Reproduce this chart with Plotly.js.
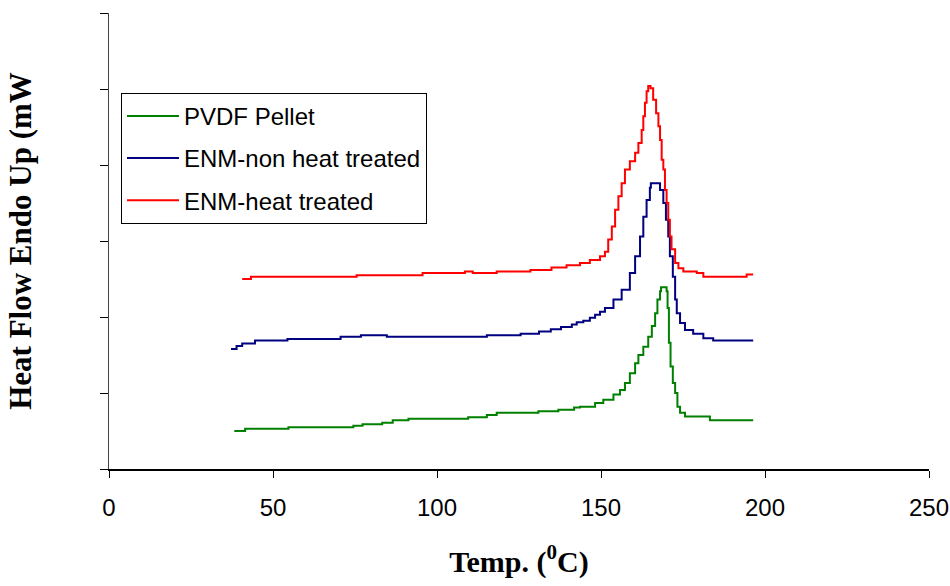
<!DOCTYPE html>
<html>
<head>
<meta charset="utf-8">
<script src="https://cdn.plot.ly/plotly-3.0.1.min.js"></script>
<style>html,body{margin:0;padding:0;background:#fff;}#chart{width:950px;height:586px;}</style>
</head>
<body>
<div id="chart"></div>
<script>
// Series names
const seriesNames = ["PVDF Pellet", "ENM-non heat treated", "ENM-heat treated"];

// PVDF Pellet
const pvdfT = [38.2, 41.5, 54.7, 74.5, 77.3, 83.3, 86.5, 91.3, 109.5, 115.2, 118.2, 130.9, 137.0, 141.8, 143.6, 148.2, 150.7, 153.8, 155.8, 157.3, 158.8, 160.4, 161.4, 162.9, 164.4, 165.5, 166.5, 167.2, 168.0, 168.3, 169.5, 170.0, 170.3, 170.7, 171.2, 171.9, 172.6, 173.3, 174.1, 175.6, 180.2, 183.2, 196.4];
const pvdfY = [0.50, 0.53, 0.55, 0.57, 0.59, 0.61, 0.64, 0.66, 0.68, 0.71, 0.74, 0.76, 0.78, 0.81, 0.82, 0.87, 0.91, 0.98, 1.04, 1.13, 1.26, 1.39, 1.50, 1.61, 1.74, 1.88, 2.05, 2.23, 2.34, 2.39, 2.39, 2.34, 2.12, 1.66, 1.35, 1.13, 1.00, 0.82, 0.74, 0.69, 0.69, 0.64, 0.64];

// ENM-non heat treated
const enmNonT = [37.2, 38.9, 40.6, 44.5, 54.4, 70.6, 76.8, 84.7, 115.2, 125.5, 131.1, 134.7, 137.8, 141.1, 142.6, 144.6, 146.6, 148.2, 149.7, 151.2, 153.8, 156.3, 158.8, 160.4, 161.9, 162.9, 163.9, 164.9, 165.2, 167.0, 168.0, 169.0, 169.8, 170.5, 171.0, 171.9, 172.6, 173.1, 174.1, 175.6, 178.1, 181.2, 184.2, 196.4];
const enmNonY = [1.58, 1.62, 1.65, 1.69, 1.71, 1.74, 1.76, 1.74, 1.76, 1.78, 1.81, 1.84, 1.87, 1.90, 1.93, 1.95, 1.99, 2.03, 2.07, 2.12, 2.23, 2.36, 2.58, 2.80, 3.06, 3.32, 3.54, 3.70, 3.76, 3.76, 3.67, 3.50, 3.28, 3.06, 2.80, 2.53, 2.23, 2.05, 1.92, 1.83, 1.78, 1.72, 1.69, 1.69];

// ENM-heat treated
const enmHeatT = [40.6, 43.3, 75.5, 95.6, 108.5, 110.9, 118.2, 128.5, 134.9, 139.5, 143.6, 146.6, 149.7, 151.2, 152.2, 153.3, 154.3, 155.3, 156.3, 157.3, 158.8, 160.4, 161.4, 162.4, 162.9, 163.4, 163.9, 164.4, 165.1, 165.9, 166.8, 167.5, 168.0, 168.5, 169.0, 169.5, 170.0, 170.5, 171.0, 171.5, 172.6, 173.6, 175.1, 179.2, 181.2, 193.4, 194.4, 196.4];
const enmHeatY = [2.50, 2.53, 2.55, 2.58, 2.60, 2.58, 2.60, 2.62, 2.65, 2.68, 2.71, 2.75, 2.80, 2.86, 3.02, 3.19, 3.41, 3.59, 3.76, 3.94, 4.05, 4.16, 4.29, 4.46, 4.64, 4.82, 4.97, 5.04, 5.01, 4.86, 4.68, 4.51, 4.33, 4.07, 3.94, 3.67, 3.50, 3.28, 3.06, 2.89, 2.71, 2.64, 2.60, 2.58, 2.53, 2.53, 2.56, 2.56];

// Axis ticks
const xTicks = [0, 50, 100, 150, 200, 250];
const yTicks = [0, 1, 2, 3, 4, 5, 6];

const colors = ["#008000", "#000080", "#ff0000"];
const xs = [pvdfT, enmNonT, enmHeatT];
const ys = [pvdfY, enmNonY, enmHeatY];

const traces = seriesNames.map((name, i) => ({
  x: xs[i], y: ys[i], name: name, type: "scatter", mode: "lines",
  line: {color: colors[i], width: 2, shape: "hv"},
  legendgroup: "g" + i
}));

const layout = {
  width: 950, height: 586,
  margin: {l: 109, r: 21, t: 13, b: 117},
  paper_bgcolor: "#fff", plot_bgcolor: "#fff",
  showlegend: true,
  legend: {
    x: 0.0146, y: 0.825, xanchor: "left", yanchor: "top",
    bgcolor: "#fff", bordercolor: "#000", borderwidth: 1,
    font: {family: "Liberation Sans, Arial, sans-serif", size: 24, color: "#000"},
    traceorder: "grouped", tracegroupgap: 8, itemwidth: 52
  },
  xaxis: {
    range: [0, 250], tickvals: xTicks, ticktext: xTicks.map(String),
    showgrid: false, zeroline: false, showline: true, linecolor: "#000", linewidth: 1.5,
    ticks: "outside", ticklen: 7, tickcolor: "#000", tickwidth: 1,
    tickfont: {family: "Liberation Sans, Arial, sans-serif", size: 24, color: "#000"},
    ticklabelstandoff: 10,
    title: {text: "Temp. (<sup>0</sup>C)", standoff: 30,
      font: {family: "Liberation Serif, Times New Roman, serif", size: 30, color: "#000", weight: "bold"}}
  },
  yaxis: {
    range: [0, 6], tickvals: yTicks, showticklabels: false,
    showgrid: false, zeroline: false, showline: true, linecolor: "#444", linewidth: 1.5,
    ticks: "outside", ticklen: 8, tickcolor: "#000", tickwidth: 1,
    title: {text: "Heat Flow Endo Up (mW", standoff: 58,
      font: {family: "Liberation Serif, Times New Roman, serif", size: 31, color: "#000", weight: "bold"}}
  }
};

Plotly.newPlot("chart", traces, layout, {displayModeBar: false, staticPlot: true});
</script>
</body>
</html>
